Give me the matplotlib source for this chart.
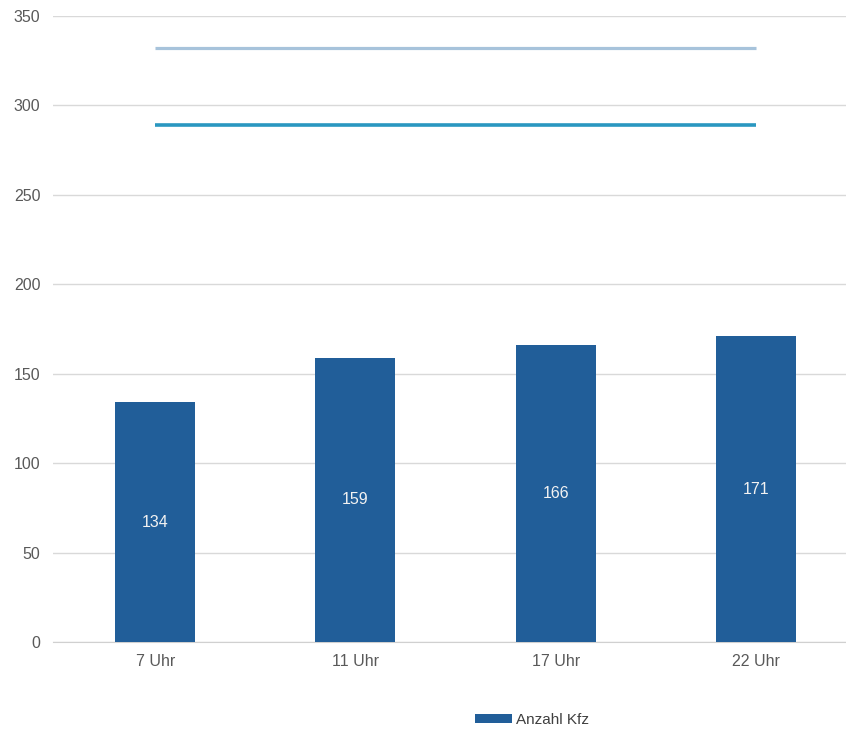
import matplotlib
matplotlib.use("Agg")
import matplotlib.pyplot as plt
from matplotlib import font_manager

categories = ["7 Uhr", "11 Uhr", "17 Uhr", "22 Uhr"]
anzahl_kfz = [134, 159, 166, 171]
grenze_oben = [332, 332, 332, 332]
grenze_unten = [289, 289, 289, 289]
y_ticks = [0, 50, 100, 150, 200, 250, 300, 350]

names = {f.name for f in font_manager.fontManager.ttflist}
fam = ["Liberation Sans Narrow", "Liberation Sans", "DejaVu Sans"]
fam = [f for f in fam if f in names] + ["DejaVu Sans"]
plt.rcParams["font.family"] = fam

fig = plt.figure(figsize=(8.46, 7.32), dpi=100)
ax = fig.add_axes([53 / 846, (732 - 642) / 732, 1 - 53 / 846, (642 - 16) / 732])

x = list(range(len(categories)))
bars = ax.bar(x, anzahl_kfz, width=0.4, color="#215E99", label="Anzahl Kfz", zorder=3)
ax.plot(x, grenze_oben, color="#A7C3DB", lw=2.3, zorder=3, solid_capstyle="butt")
ax.plot(x, grenze_unten, color="#2A97C0", lw=2.6, zorder=3, solid_capstyle="butt")

for xi, v in zip(x, anzahl_kfz):
    ax.text(xi, v / 2, str(v), ha="center", va="center", color="#F2F2F2", fontsize=11.5, zorder=4)

ax.set_xlim(-0.51, 3.45)
ax.set_ylim(0, 350)
ax.set_yticks(y_ticks)
ax.set_xticks(x)
ax.set_xticklabels(categories)
ax.grid(axis="y", color="#D9D9D9", lw=1, zorder=0)
for s in ["top", "right", "left"]:
    ax.spines[s].set_visible(False)
ax.spines["bottom"].set_color("#D0D0D0")
ax.tick_params(axis="both", length=0, labelsize=11.5, colors="#595959")
ax.tick_params(axis="y", pad=9)
ax.tick_params(axis="x", pad=9)

fig.legend(handles=[bars], labels=["Anzahl Kfz"], loc="center", bbox_to_anchor=(532 / 846, 1 - 720 / 732),
           frameon=False, fontsize=11, handlelength=2.4, handleheight=0.5, labelcolor="#404040",
           handletextpad=0.3)

fig.savefig("out.png", dpi=100, facecolor="white")
